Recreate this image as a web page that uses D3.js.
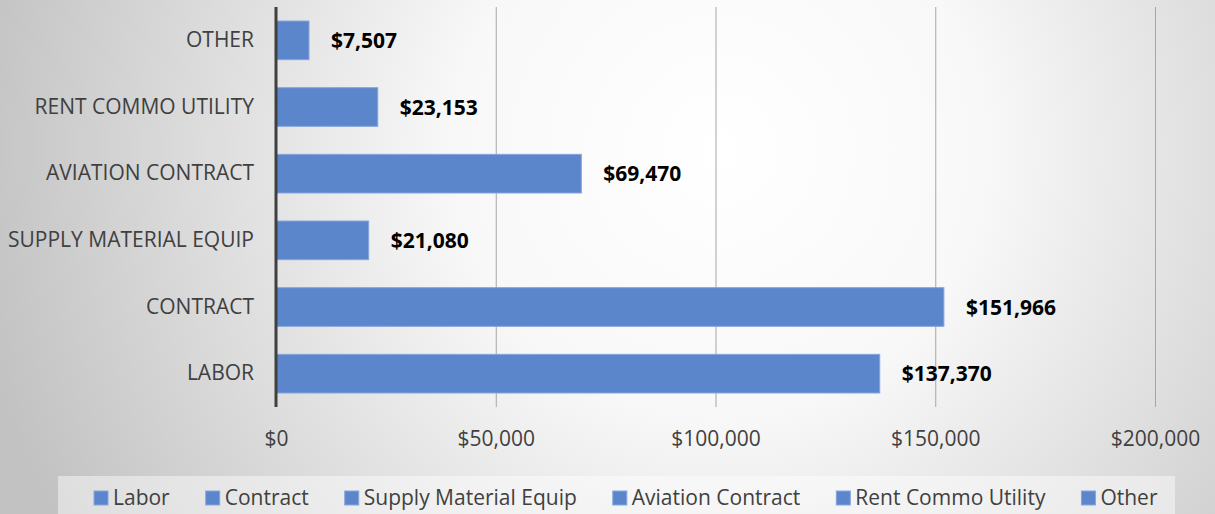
<!DOCTYPE html>
<html>
<head>
<meta charset="utf-8">
<script src="https://cdn.jsdelivr.net/npm/d3@7"></script>
<style>
  html, body { margin: 0; padding: 0; }
  body { width: 1215px; height: 514px; overflow: hidden; }
  svg { display: block; font-family: "Open Sans", sans-serif; }
</style>
</head>
<body>
<div id="chart"></div>
<script>
// categories top to bottom, as drawn
const categories = ["OTHER", "RENT COMMO UTILITY", "AVIATION CONTRACT", "SUPPLY MATERIAL EQUIP", "CONTRACT", "LABOR"];
const amounts = [7507, 23153, 69470, 21080, 151966, 137370];
const legendLabels = ["Labor", "Contract", "Supply Material Equip", "Aviation Contract", "Rent Commo Utility", "Other"];
const xTicks = [0, 50000, 100000, 150000, 200000];

const width = 1215;
const height = 514;
const margin = { top: 7, right: 60, bottom: 107, left: 276 };
const barColor = "#5b86cb";
const barStroke = "#86a5dc";
const textSize = 21;

const data = categories.map((c, i) => ({ cat: c, value: amounts[i] }));

const svg = d3.select("#chart")
    .append("svg")
    .attr("width", width)
    .attr("height", height);

// radial background like the office slide
const defs = svg.append("defs");
const grad = defs.append("radialGradient")
    .attr("id", "bg")
    .attr("gradientUnits", "userSpaceOnUse")
    .attr("cx", 720).attr("cy", 150).attr("r", 760);
grad.append("stop").attr("offset", "0%").attr("stop-color", "#ffffff");
grad.append("stop").attr("offset", "35%").attr("stop-color", "#f8f8f8");
grad.append("stop").attr("offset", "100%").attr("stop-color", "#c2c2c2");

svg.append("rect")
    .attr("width", width)
    .attr("height", height)
    .attr("fill", "url(#bg)");

const x = d3.scaleLinear()
    .domain([0, 200000])
    .range([margin.left, 1155]);

const y = d3.scaleBand()
    .domain(categories)
    .range([margin.top, height - margin.bottom])
    .paddingInner(0.42)
    .paddingOuter(0.21);

// gridlines
svg.append("g")
    .selectAll("line")
    .data(xTicks.slice(1))
    .join("line")
    .attr("x1", d => x(d) + 0.5)
    .attr("x2", d => x(d) + 0.5)
    .attr("y1", margin.top)
    .attr("y2", height - margin.bottom)
    .attr("stroke", "#a6a6a6")
    .attr("stroke-width", 1);

// bars
svg.append("g")
    .selectAll("rect")
    .data(data)
    .join("rect")
    .attr("x", x(0))
    .attr("y", d => y(d.cat))
    .attr("width", d => x(d.value) - x(0))
    .attr("height", y.bandwidth())
    .attr("fill", barColor)
    .attr("stroke", barStroke)
    .attr("stroke-width", 1);

// value labels
svg.append("g")
    .selectAll("text")
    .data(data)
    .join("text")
    .attr("x", d => x(d.value) + 22)
    .attr("y", d => y(d.cat) + y.bandwidth() / 2)
    .attr("dy", "0.36em")
    .attr("font-size", textSize)
    .attr("font-weight", "bold")
    .attr("fill", "#000")
    .text(d => "$" + d3.format(",")(d.value));

// x axis (labels only)
const xAxis = svg.append("g")
    .attr("transform", `translate(0,${height - margin.bottom})`)
    .call(d3.axisBottom(x).tickValues(xTicks).tickFormat(d => "$" + d3.format(",")(d)).tickSize(0).tickPadding(24));
xAxis.select(".domain").remove();
xAxis.selectAll("text")
    .attr("font-size", textSize)
    .attr("font-family", "Open Sans, sans-serif")
    .attr("fill", "#404040");

// y axis
const yAxis = svg.append("g")
    .attr("transform", `translate(${margin.left},0)`)
    .call(d3.axisLeft(y).tickSize(0).tickPadding(22));
yAxis.select(".domain").remove();
yAxis.selectAll("text")
    .attr("font-size", textSize)
    .attr("font-family", "Open Sans, sans-serif")
    .attr("fill", "#404040");

svg.append("line")
    .attr("x1", x(0))
    .attr("x2", x(0))
    .attr("y1", margin.top)
    .attr("y2", height - margin.bottom)
    .attr("stroke", "#404040")
    .attr("stroke-width", 3);

// legend
const legend = svg.append("g");
legend.append("rect")
    .attr("x", 58)
    .attr("y", 476)
    .attr("width", 1117)
    .attr("height", 38)
    .attr("fill", "#ffffff")
    .attr("fill-opacity", 0.45);

const items = legend.selectAll("g.item")
    .data(legendLabels)
    .join("g")
    .attr("class", "item");

items.append("rect")
    .attr("width", 14)
    .attr("height", 14)
    .attr("y", 491)
    .attr("fill", barColor)
    .attr("stroke", barStroke)
    .attr("stroke-width", 1);

items.append("text")
    .attr("x", 19)
    .attr("y", 497)
    .attr("dy", "0.36em")
    .attr("font-size", textSize)
    .attr("fill", "#404040")
    .text(d => d);

let cursor = 94;
items.each(function () {
    const g = d3.select(this);
    g.attr("transform", `translate(${cursor},0)`);
    const w = g.select("text").node().getComputedTextLength();
    cursor += 19 + w + 36;
});
</script>
</body>
</html>
